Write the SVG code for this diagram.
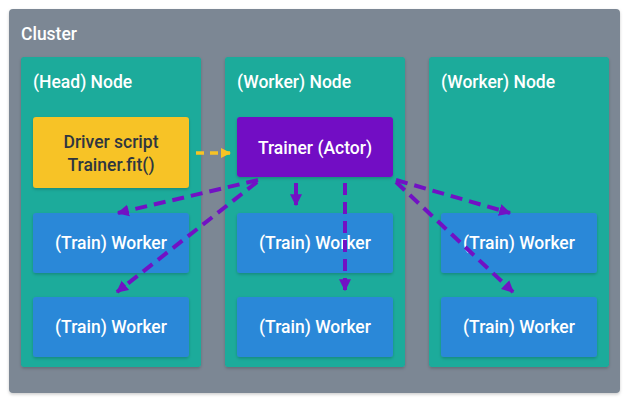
<svg xmlns="http://www.w3.org/2000/svg" width="630" height="402" viewBox="0 0 630 402">
<defs>
<style>
text{font-family:Roboto,"Liberation Sans","DejaVu Sans",sans-serif;font-size:17.5px;fill:#ffffff;font-weight:500;}
.c{text-anchor:middle;}
.dark{fill:#2f3640;}
.node{fill:#1aab9b;}
.worker{fill:#2b88d8;}
.p{stroke:#7211c4;stroke-width:4;stroke-dasharray:12 7;fill:none;marker-end:url(#ap);}
</style>
<marker id="ap" viewBox="0 0 10 10" refX="9" refY="5" markerWidth="12" markerHeight="13" markerUnits="userSpaceOnUse" orient="auto">
<path d="M0,0 L10,5 L0,10 Z" fill="#7211c4"/>
</marker>
<marker id="ay" viewBox="0 0 10 10" refX="9" refY="5" markerWidth="10" markerHeight="11" markerUnits="userSpaceOnUse" orient="auto">
<path d="M0,0 L10,5 L0,10 Z" fill="#f7c325"/>
</marker>
<filter id="sh" x="-10%" y="-10%" width="120%" height="130%">
<feDropShadow dx="0" dy="1.5" stdDeviation="1.5" flood-color="#000" flood-opacity="0.2"/>
</filter>
</defs>
<g id="cluster">
<rect x="9" y="9" width="611" height="384" rx="4" fill="#7b8794" filter="url(#sh)"/>
<text x="21" y="40">Cluster</text>
</g>
<g id="head-node">
<rect class="node" x="21" y="57" width="180" height="310" rx="3" filter="url(#sh)"/>
<text x="33" y="88">(Head) Node</text>
</g>
<g id="worker-node-1">
<rect class="node" x="225" y="57" width="180" height="310" rx="3" filter="url(#sh)"/>
<text x="237" y="88">(Worker) Node</text>
</g>
<g id="worker-node-2">
<rect class="node" x="429" y="57" width="180" height="310" rx="3" filter="url(#sh)"/>
<text x="441" y="88">(Worker) Node</text>
</g>
<g id="driver">
<rect x="33" y="117" width="156" height="71" rx="3" fill="#f7c325" filter="url(#sh)"/>
<text class="c dark" x="111" y="148">Driver script</text>
<text class="c dark" x="111" y="171">Trainer.fit()</text>
</g>
<g id="trainer">
<rect x="237" y="117" width="156" height="60" rx="3" fill="#7211c4" filter="url(#sh)"/>
<text class="c" x="315" y="154">Trainer (Actor)</text>
</g>
<g id="w1"><rect class="worker" x="33" y="213" width="156" height="60" rx="3" filter="url(#sh)"/><text class="c" x="111" y="249">(Train) Worker</text></g>
<g id="w2"><rect class="worker" x="33" y="297" width="156" height="60" rx="3" filter="url(#sh)"/><text class="c" x="111" y="333">(Train) Worker</text></g>
<g id="w3"><rect class="worker" x="237" y="213" width="156" height="60" rx="3" filter="url(#sh)"/><text class="c" x="315" y="249">(Train) Worker</text></g>
<g id="w4"><rect class="worker" x="237" y="297" width="156" height="60" rx="3" filter="url(#sh)"/><text class="c" x="315" y="333">(Train) Worker</text></g>
<g id="w5"><rect class="worker" x="441" y="213" width="156" height="60" rx="3" filter="url(#sh)"/><text class="c" x="519" y="249">(Train) Worker</text></g>
<g id="w6"><rect class="worker" x="441" y="297" width="156" height="60" rx="3" filter="url(#sh)"/><text class="c" x="519" y="333">(Train) Worker</text></g>
<g id="connectors">
<path d="M196,153 L230,153" stroke="#f7c325" stroke-width="3.5" stroke-dasharray="8 6" fill="none" marker-end="url(#ay)"/>
<path class="p" d="M258,180 L118,213"/>
<path class="p" d="M257,182 L117,292"/>
<path class="p" d="M296,183 L296,205" style="stroke-dasharray:none"/>
<path class="p" d="M345,183 L345,290"/>
<path class="p" d="M396,180 L510,213"/>
<path class="p" d="M396,182 L513,292"/>
</g>
</svg>
